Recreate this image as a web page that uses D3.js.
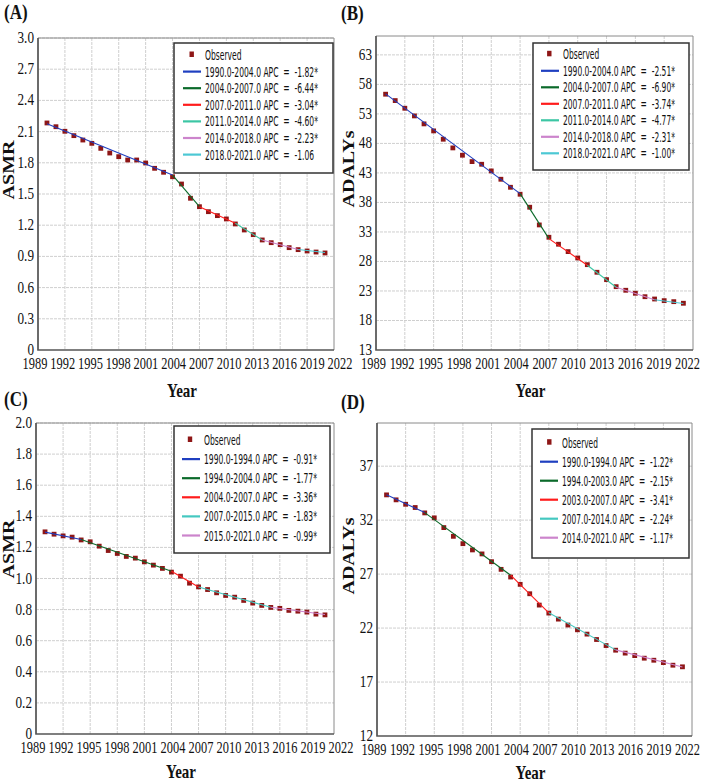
<!DOCTYPE html>
<html>
<head>
<meta charset="utf-8">
<script src="https://cdn.jsdelivr.net/npm/d3@7"></script>
<style>
  body { margin: 0; background: #fff; }
  svg { display: block; }
</style>
</head>
<body>
<div id="chart"></div>
<script>
// observed values, 1990-2021
var years = [1990,1991,1992,1993,1994,1995,1996,1997,1998,1999,2000,2001,2002,2003,2004,2005,
             2006,2007,2008,2009,2010,2011,2012,2013,2014,2015,2016,2017,2018,2019,2020,2021];
var asmrA = [2.183,2.147,2.103,2.061,2.019,1.987,1.939,1.894,1.859,1.827,1.827,1.798,1.747,1.709,1.666,1.596,
             1.459,1.378,1.330,1.292,1.260,1.212,1.154,1.109,1.058,1.032,1.013,0.984,0.965,0.952,0.942,0.933];
var adalyB = [56.34,55.26,53.96,52.66,51.31,50.12,48.71,47.24,46.00,44.92,44.47,43.34,41.93,40.57,39.39,37.19,
              34.19,32.10,30.92,29.67,28.59,27.46,26.17,24.92,23.73,23.12,22.61,22.03,21.64,21.36,21.19,20.92];
var asmrC = [1.300,1.285,1.274,1.266,1.248,1.236,1.208,1.180,1.161,1.142,1.131,1.107,1.086,1.065,1.041,1.015,
             0.970,0.946,0.929,0.908,0.891,0.880,0.859,0.842,0.827,0.814,0.808,0.795,0.790,0.784,0.771,0.766];
var adalyD = [34.34,33.88,33.47,33.17,32.67,32.21,31.31,30.50,29.82,29.24,28.87,28.15,27.44,26.73,26.05,25.18,
              24.13,23.39,22.83,22.28,21.84,21.44,20.94,20.38,19.95,19.68,19.45,19.21,19.02,18.80,18.56,18.41];

// joinpoint fitted values (read at the segment ends)
var jpYearsA = [1990,2004,2007,2011,2014,2018,2021];
var jpFitA   = [2.175,1.682,1.378,1.218,1.058,0.967,0.937];
var jpYearsB = [1990,2004,2007,2011,2014,2018,2021];
var jpFitB   = [56.4,39.5,31.87,27.36,23.63,21.52,20.88];
var jpYearsC = [1990,1994,2004,2007,2015,2021];
var jpFitC   = [1.298,1.251,1.047,0.945,0.815,0.768];
var jpYearsD = [1990,1994,2003,2007,2014,2021];
var jpFitD   = [34.35,32.70,26.90,23.41,19.98,18.40];

var legendA = ["1990.0-2004.0 APC  =  -1.82*","2004.0-2007.0 APC  =  -6.44*","2007.0-2011.0 APC  =  -3.04*",
               "2011.0-2014.0 APC  =  -4.60*","2014.0-2018.0 APC  =  -2.23*","2018.0-2021.0 APC  =  -1.06"];
var legendB = ["1990.0-2004.0 APC  =  -2.51*","2004.0-2007.0 APC  =  -6.90*","2007.0-2011.0 APC  =  -3.74*",
               "2011.0-2014.0 APC  =  -4.77*","2014.0-2018.0 APC  =  -2.31*","2018.0-2021.0 APC  =  -1.00*"];
var legendC = ["1990.0-1994.0 APC  =  -0.91*","1994.0-2004.0 APC  =  -1.77*","2004.0-2007.0 APC  =  -3.36*",
               "2007.0-2015.0 APC  =  -1.83*","2015.0-2021.0 APC  =  -0.99*"];
var legendD = ["1990.0-1994.0 APC  =  -1.22*","1994.0-2003.0 APC  =  -2.15*","2003.0-2007.0 APC  =  -3.41*",
               "2007.0-2014.0 APC  =  -2.24*","2014.0-2021.0 APC  =  -1.17*"];

var xTicks = [1989,1992,1995,1998,2001,2004,2007,2010,2013,2016,2019,2022];
var yTicksA = [0,0.3,0.6,0.9,1.2,1.5,1.8,2.1,2.4,2.7,3.0];
var yTicksB = [13,18,23,28,33,38,43,48,53,58,63];
var yTicksC = [0,0.2,0.4,0.6,0.8,1.0,1.2,1.4,1.6,1.8,2.0];
var yTicksD = [12,17,22,27,32,37];

var colors6 = ["#1f3fc0","#0b6a2a","#ff1c1c","#3cc6a4","#cc84cc","#4cc8d4"];
var colors5 = ["#1f3fc0","#0b6a2a","#ff1c1c","#44c8c0","#cc84cc"];

var W = 702, H = 783, SY = 1.25;
var serif = "'Liberation Serif','Times New Roman',serif";
var narrow = "'Liberation Sans Narrow','Arial Narrow','DejaVu Sans Condensed',sans-serif";

var svg = d3.select("#chart").append("svg")
    .attr("width", W)
    .attr("height", H);

function place(t, x, y, sx, sy, rot){
    t.attr("transform", "translate(" + x + "," + y + ") scale(" + sx + "," + sy + ")" + (rot ? " rotate(-90)" : ""));
}

// text in the reference is stretched vertically
function stxt(g, x, y, str, size, weight, anchor, font, rot, sy){
    var t = g.append("text")
        .attr("text-anchor", anchor || "start")
        .style("font-family", font || serif)
        .style("font-size", size + "px")
        .style("font-weight", weight || "normal")
        .style("white-space", "pre")
        .attr("fill", "#111")
        .text(str);
    place(t, x, y, 1, sy || SY, rot);
    return t;
}

var panels = [
    {tag:"(A)", tagX:4, tagY:19, box:[38,334,38,350], xlab:[35,340], dom:[0,3.0], ticks:yTicksA, fmt:function(d){ return d===0 ? "0" : d.toFixed(1); },
     obs:asmrA, jpY:jpYearsA, jpV:jpFitA, labels:legendA, colors:colors6, ytitle:"ASMR", yTitleX:14, yTitleY:170, yearDy:47,
     leg:{x0:174,x1:333,y0:43,y1:173,row0:55,step:16.6,mx:191.7,lx0:183,lx1:201,tx:205,tw:113}},
    {tag:"(B)", tagX:341, tagY:20, box:[376,693,36,350], xlab:[373.5,687.5], dom:[13,66.2], ticks:yTicksB, fmt:function(d){ return d; },
     obs:adalyB, jpY:jpYearsB, jpV:jpFitB, labels:legendB, colors:colors6, ytitle:"ADALYs", yTitleX:354, yTitleY:169, yearDy:47,
     leg:{x0:533,x1:689,y0:43,y1:170,row0:54.3,step:16.5,mx:549.3,lx0:541,lx1:559,tx:563,tw:112}},
    {tag:"(C)", tagX:4, tagY:406, box:[36,334,423,734], xlab:[33,341], dom:[0,2.0], ticks:yTicksC, fmt:function(d){ return d===0 ? "0" : d.toFixed(1); },
     obs:asmrC, jpY:jpYearsC, jpV:jpFitC, labels:legendC, colors:colors5, ytitle:"ASMR", yTitleX:14, yTitleY:549, yearDy:44,
     leg:{x0:174,x1:330,y0:426,y1:553,row0:440,step:19.1,mx:190,lx0:182,lx1:200,tx:204,tw:113}},
    {tag:"(D)", tagX:341, tagY:409, box:[377,692,423,736], xlab:[374,687.5], dom:[12,41], ticks:yTicksD, fmt:function(d){ return d; },
     obs:adalyD, jpY:jpYearsD, jpV:jpFitD, labels:legendD, colors:colors5, ytitle:"ADALYs", yTitleX:354, yTitleY:556, yearDy:43,
     leg:{x0:532,x1:689,y0:429,y1:558,row0:442.7,step:19,mx:549.3,lx0:540,lx1:558,tx:562,tw:111}}
];

panels.forEach(function(p){
    var left = p.box[0], right = p.box[1], top = p.box[2], bottom = p.box[3];
    var x = d3.scaleLinear().domain([1989, 2022]).range([left, right]);
    var xl = d3.scaleLinear().domain([1989, 2022]).range(p.xlab);
    var y = d3.scaleLinear().domain(p.dom).range([bottom, top]);
    var g = svg.append("g");

    // grid
    g.selectAll(".vgrid").data(xTicks.slice(1, -1)).enter().append("line")
        .attr("x1", function(d){ return x(d); }).attr("x2", function(d){ return x(d); })
        .attr("y1", top).attr("y2", bottom)
        .attr("stroke", "#cfcfcf").attr("stroke-width", 1).attr("stroke-dasharray", "3,1");
    g.selectAll(".hgrid").data(p.ticks.filter(function(d){ return d !== p.dom[0]; })).enter().append("line")
        .attr("x1", left).attr("x2", right)
        .attr("y1", function(d){ return y(d); }).attr("y2", function(d){ return y(d); })
        .attr("stroke", "#cfcfcf").attr("stroke-width", 1).attr("stroke-dasharray", "3,1");

    // frame
    g.append("path")
        .attr("d", "M" + left + "," + bottom + "V" + top + "H" + right + "V" + bottom)
        .attr("fill", "none").attr("stroke", "#8a8a8a").attr("stroke-width", 1);
    g.append("path")
        .attr("d", "M" + left + "," + top + "V" + bottom + "H" + right)
        .attr("fill", "none").attr("stroke", "#555").attr("stroke-width", 1.6);

    // tick labels
    xTicks.forEach(function(t){
        stxt(g, xl(t), bottom + 19, String(t), 12.4, "normal", "middle", serif, false, 1.33);
    });
    p.ticks.forEach(function(t){
        stxt(g, left - 4, y(t) + 5, String(p.fmt(t)), 13.2, "normal", "end", serif, false, 1.28);
    });

    // titles
    stxt(g, p.tagX, p.tagY, p.tag, 17, "bold", "start");
    stxt(g, (left + right) / 2 - 4, bottom + p.yearDy, "Year", 15, "bold", "middle");
    stxt(g, p.yTitleX, p.yTitleY, p.ytitle, 16, "bold", "middle", serif, true);

    // observed points
    var pts = years.map(function(yr, i){ return {year: yr, v: p.obs[i]}; });
    g.selectAll(".obs").data(pts).enter().append("rect")
        .attr("class", "obs")
        .attr("x", function(d){ return x(d.year) - 2.4; })
        .attr("y", function(d){ return y(d.v) - 2.4; })
        .attr("width", 4.8).attr("height", 4.8)
        .attr("fill", "#8e1616");

    // fitted segments
    var line = d3.line()
        .x(function(d){ return x(d[0]); })
        .y(function(d){ return y(d[1]); });
    for(var i = 0; i < p.jpY.length - 1; i++){
        g.append("path")
            .attr("d", line([[p.jpY[i], p.jpV[i]], [p.jpY[i+1], p.jpV[i+1]]]))
            .attr("fill", "none")
            .attr("stroke", p.colors[i])
            .attr("stroke-width", 1.1);
    }

    // legend
    var L = p.leg;
    g.append("rect")
        .attr("x", L.x0).attr("y", L.y0)
        .attr("width", L.x1 - L.x0).attr("height", L.y1 - L.y0)
        .attr("fill", "#fff").attr("stroke", "#333").attr("stroke-width", 1.5);
    g.append("rect")
        .attr("x", L.mx - 2.2).attr("y", L.row0 - 3.5)
        .attr("width", 4.4).attr("height", 5.5)
        .attr("fill", "#8e1616");
    var legTexts = [];
    legTexts.push({t: stxt(g, L.tx, L.row0 + 5, "Observed", 11.5, "normal", "start", narrow), y: L.row0 + 5});
    p.labels.forEach(function(lab, k){
        var ry = L.row0 + (k + 1) * L.step;
        g.append("line")
            .attr("x1", L.lx0).attr("x2", L.lx1)
            .attr("y1", ry).attr("y2", ry)
            .attr("stroke", p.colors[k]).attr("stroke-width", 2.2);
        legTexts.push({t: stxt(g, L.tx, ry + 5, lab, 11.5, "normal", "start", narrow), y: ry + 5});
    });
    // squeeze the legend text to the width seen in the reference
    var len = legTexts[1].t.node().getComputedTextLength();
    var sx = len > 0 ? L.tw / len : 1;
    legTexts.forEach(function(o){
        place(o.t, L.tx, o.y, sx, SY, false);
    });
});
</script>
</body>
</html>
